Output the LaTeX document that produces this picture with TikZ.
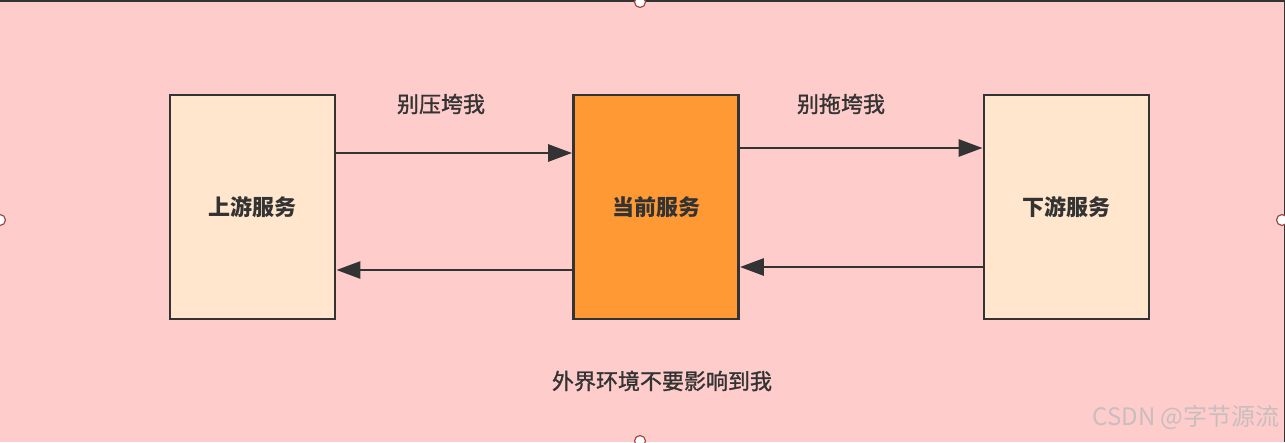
\documentclass[tikz,border=0pt]{standalone}
\usepackage{fontspec}
\newfontfamily\cjk{Noto Sans CJK SC}
\newfontfamily\cjkmid[FakeBold=1.2]{Noto Sans CJK SC}
\usetikzlibrary{arrows.meta}
\definecolor{bgpink}{HTML}{FFCCCC}
\definecolor{lightbox}{HTML}{FFE6CC}
\definecolor{curbox}{HTML}{FF9933}
\definecolor{ink}{HTML}{333333}
\definecolor{handle}{HTML}{A04848}
\definecolor{wmark}{HTML}{C8BEBE}
\tikzset{
  svcbox/.style={draw=ink, line width=2.8pt, inner sep=0pt, minimum width=165, minimum height=224,
    font=\cjk\bfseries\fontsize{22}{26}\selectfont, text=ink},
  flow/.style={draw=ink, line width=2.8pt, -{Triangle[length=24pt,width=17pt]}},
  lbl/.style={font=\cjkmid\fontsize{22}{26}\selectfont, text=ink},
  grip/.style={circle, draw=handle, fill=white, line width=1.2pt, inner sep=0pt, minimum size=11pt}
}
\begin{document}
\begin{tikzpicture}[x=1pt, y=-1pt]
  \useasboundingbox (0,0) rectangle (1285,442);
  \fill[bgpink] (0,0) rectangle (1285,442);
  \draw[ink, line width=3pt] (0,0) -- (1285,0) -- (1285,442);
  \node[svcbox, fill=lightbox] (up) at (252.5,207) {上游服务};
  \node[svcbox, fill=curbox] (cur) at (656,207) {当前服务};
  \node[svcbox, fill=lightbox] (down) at (1066.5,207) {下游服务};
  \draw[flow] ([yshift=54pt]up.east) -- ([yshift=54pt]cur.west);
  \draw[flow] ([yshift=59pt]cur.east) -- ([yshift=59pt]down.west);
  \draw[flow] ([yshift=-63pt]cur.west) -- ([yshift=-63pt]up.east);
  \draw[flow] ([yshift=-60pt]down.west) -- ([yshift=-60pt]cur.east);
  \node[lbl] (press) at (441,104) {别压垮我};
  \node[lbl] (drag) at (841,104) {别拖垮我};
  \node[lbl] (outer) at (662,381) {外界环境不要影响到我};
  \node[font=\cjk\fontsize{24}{28}\selectfont, text=wmark] (mark) at (1186,417) {CSDN @字节源流};
  \node[grip] (gtop) at (640,2) {};
  \node[grip] (gleft) at (0,220) {};
  \node[grip] (gright) at (1282,220) {};
  \node[grip] (gbot) at (640,441) {};
\end{tikzpicture}
\end{document}
